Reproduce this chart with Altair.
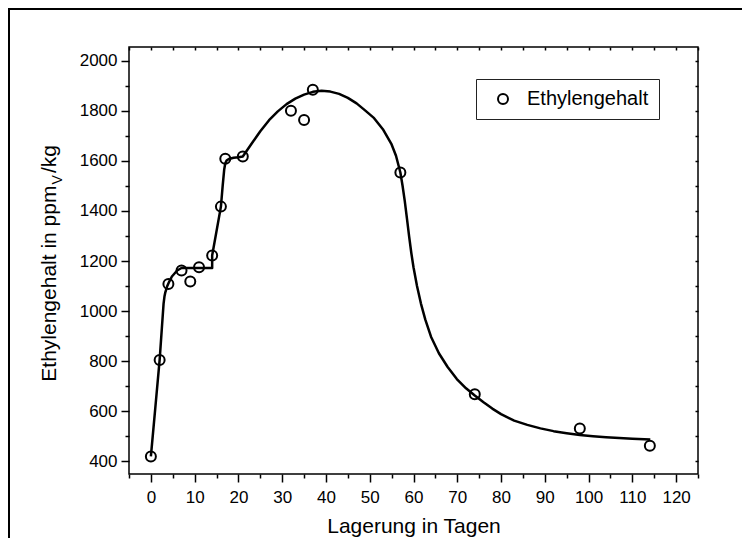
import altair as alt
import pandas as pd

FONT = "Liberation Sans"

# measured points
days = [0, 2, 4, 7, 9, 11, 14, 16, 17, 21, 32, 35, 37, 57, 74, 98, 114]
ethylene = [420, 805, 1108, 1162, 1118, 1175, 1222, 1417, 1608, 1617, 1800, 1763, 1883, 1553, 668, 532, 463]

# fitted curve
curve_x = [0, 1, 2, 2.5, 2.9, 3.1, 3.3, 3.7, 4.2, 4.8, 5.4, 6.0, 6.6, 7.0, 14.0, 14.0, 16.0, 16.4,
           16.75, 17.0, 17.3, 17.8, 18.9, 20.0, 21.0, 23.0, 25.0, 27.0, 29.0, 31.0, 33.0, 35.0, 37.0,
           39.0, 41.0, 43.0, 45.0, 47.0, 49.0, 51.0, 53.0, 55.0, 56.0, 57.0, 57.5, 58.0, 58.5, 59.0,
           59.5, 60.0, 60.8, 61.7, 62.7, 64.0, 65.8, 67.8, 69.9, 72.0, 74.0, 76.0, 78.0, 80.0, 83.0,
           86.0, 89.0, 92.0, 95.0, 98.0, 101.0, 104.0, 107.0, 110.0, 114.1]
curve_y = [420, 612, 805, 930, 1030, 1058, 1075, 1098, 1118, 1138, 1150, 1162, 1168, 1172, 1172, 1222,
           1417, 1500, 1565, 1590, 1601, 1607, 1612, 1614, 1617, 1668, 1718, 1762, 1797, 1826, 1848,
           1864, 1875, 1879, 1876, 1867, 1851, 1829, 1800, 1770, 1726, 1665, 1620, 1553, 1500, 1440,
           1370, 1298, 1232, 1175, 1100, 1030, 966, 898, 832, 777, 729, 692, 663, 636, 611, 589, 563,
           546, 532, 521, 513, 506, 501, 497, 494, 491, 488]

x_major = list(range(0, 121, 10))
x_minor = list(range(-5, 126, 10))
y_major = list(range(400, 2001, 200))
y_minor = list(range(500, 2001, 200))
x_mirror = list(range(-5, 126, 5))
y_mirror = list(range(400, 2001, 100))

series_name = "Ethylengehalt"
x_title = "Lagerung in Tagen"
y_title_main = "Ethylengehalt in ppm"
y_title_sub = "V"
y_title_end = "/kg"

pts = pd.DataFrame({"x": days, "y": ethylene, "s": [series_name] * len(days)})
curve = pd.DataFrame({"x": curve_x, "y": curve_y, "i": list(range(len(curve_x)))})

W, H = 569, 427
xs = alt.Scale(domain=[-5, 125], nice=False, zero=False)
ys = alt.Scale(domain=[350, 2054], nice=False, zero=False)

line = alt.Chart(curve).mark_line(color="black", strokeWidth=2.5, strokeJoin="round").encode(
    x=alt.X("x:Q", scale=xs, axis=alt.Axis(
        values=x_major, orient="bottom", tickSize=8, labelPadding=7, labelFontSize=17,
        format="d", title=x_title, titleFontSize=21, titleFontWeight="normal", titlePadding=10,
        labelFlush=False, labelOverlap=False)),
    y=alt.Y("y:Q", scale=ys, axis=alt.Axis(
        values=y_major, orient="left", tickSize=8, labelPadding=4, labelFontSize=17,
        format="d", title=None, labelOverlap=False)),
    order="i:Q",
)

points = alt.Chart(pts).mark_point(filled=False, color="black", strokeWidth=2, size=100, opacity=1).encode(
    x=alt.X("x:Q", scale=xs, axis=alt.Axis(values=x_minor, orient="bottom", tickSize=4,
                                           labels=False, title=None)),
    y=alt.Y("y:Q", scale=ys, axis=alt.Axis(values=y_minor, orient="left", tickSize=4,
                                           labels=False, title=None)),
    shape=alt.Shape("s:N", scale=alt.Scale(range=["circle"]), legend=alt.Legend(
        title=None, orient="none", legendX=347, legendY=32, padding=10,
        strokeColor="#222", fillColor="white",
        symbolSize=100, symbolStrokeWidth=2, symbolStrokeColor="black",
        symbolFillColor="transparent", symbolType="circle", symbolOffset=7,
        labelOffset=14, labelFontSize=20, labelFont=FONT, labelColor="black")),
)

mirror = alt.Chart(pts).mark_point(opacity=0).encode(
    x=alt.X("x:Q", scale=xs, axis=alt.Axis(values=x_mirror, orient="top", tickSize=3, offset=-3,
                                           labels=False, title=None)),
    y=alt.Y("y:Q", scale=ys, axis=alt.Axis(values=y_mirror, orient="right", tickSize=3, offset=-3,
                                           labels=False, title=None)),
)

one = alt.Data(values=[{}])
tstyle = dict(angle=270, align="left", baseline="alphabetic", font=FONT, color="black")
t1 = alt.Chart(one).mark_text(fontSize=21, **tstyle).encode(
    x=alt.value(-73), y=alt.value(334.7), text=alt.value(y_title_main))
t2 = alt.Chart(one).mark_text(fontSize=14, **tstyle).encode(
    x=alt.value(-67.5), y=alt.value(137.5), text=alt.value(y_title_sub))
t3 = alt.Chart(one).mark_text(fontSize=21, **tstyle).encode(
    x=alt.value(-73), y=alt.value(126), text=alt.value(y_title_end))

border_top = alt.Chart(one).mark_rule(color="black", strokeWidth=2).encode(
    x=alt.value(-121), x2=alt.value(613), y=alt.value(-38))
border_left = alt.Chart(one).mark_rule(color="black", strokeWidth=2).encode(
    x=alt.value(-120), y=alt.value(-38), y2=alt.value(491))

chart = alt.layer(
    border_top, border_left, line, points, mirror, t1, t2, t3
).resolve_scale(x="shared", y="shared").resolve_axis(
    x="independent", y="independent"
).properties(
    width=W, height=H,
    padding={"left": 121, "top": 39, "right": 44, "bottom": 64},
    autosize=alt.AutoSizeParams(type="none"),
    background="white",
).configure_view(
    stroke="black", strokeWidth=1.5
).configure_axis(
    labelFont=FONT, titleFont=FONT, labelColor="black", titleColor="black",
    tickColor="black", tickWidth=1.5, grid=False, domain=False,
).configure_legend(
    strokeWidth=1
)

chart.save("out.html", embed_options={"renderer": "svg", "actions": False})
